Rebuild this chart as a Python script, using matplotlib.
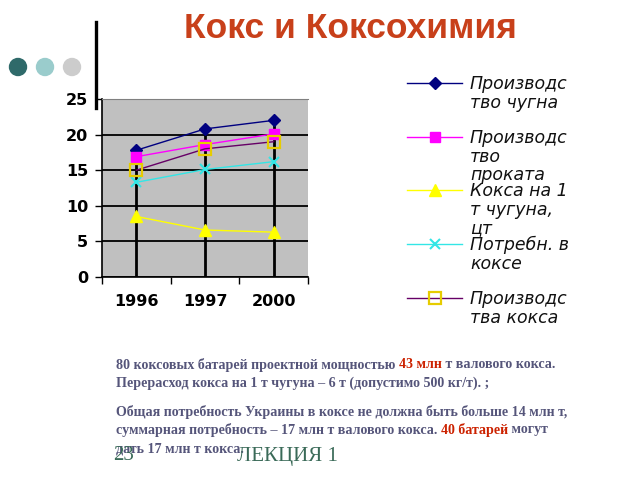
import matplotlib
matplotlib.use("Agg")
import matplotlib.pyplot as plt
from matplotlib.lines import Line2D
from matplotlib.patches import Circle

years = ["1996", "1997", "2000"]
chugun = [17.8, 20.8, 22.0]
prokat = [16.9, 18.6, 20.1]
koks_na_t = [8.5, 6.6, 6.3]
potrebn = [13.3, 15.1, 16.2]
proizv_koksa = [15.0, 18.0, 19.0]

labels = ["Производс\nтво чугна",
          "Производс\nтво\nпроката",
          "Кокса на 1\nт чугуна,\nцт",
          "Потребн. в\nкоксе",
          "Производс\nтва кокса"]

title = "Кокс и Коксохимия"
notes = [
    [("80 коксовых батарей проектной мощностью ", "n"), ("43 млн", "r"), (" т валового кокса.", "n")],
    [("Перерасход кокса на 1 т чугуна – 6 т (допустимо 500 кг/т). ;", "n")],
    [("Общая потребность Украины в коксе не должна быть больше 14 млн т,", "n")],
    [("суммарная потребность – 17 млн т валового кокса. ", "n"), ("40 батарей", "r"), (" могут", "n")],
    [("дать 17 млн т кокса.", "n")],
]

W, H = 640, 480
fig = plt.figure(figsize=(6.4, 4.8), dpi=100)

# slide decorations
for cx, col in [(18, "#2f6a6a"), (45, "#9acccc"), (72, "#cccccc")]:
    fig.patches.append(Circle((cx / 100, (H - 67) / 100), 0.085, color=col,
                              transform=fig.dpi_scale_trans))
fig.lines.append(Line2D([96 / W, 96 / W], [1 - 22 / H, 1 - 108 / H], color="black",
                        lw=2.4, transform=fig.transFigure))

fig.text(350 / W, 1 - 28 / H, title, ha="center", va="center", fontsize=25.5,
         fontweight="bold", color="#c8401a", family="Liberation Sans")

# chart
ax = fig.add_axes([102 / W, 1 - 277 / H, 206 / W, 178 / H])
ax.set_facecolor("#c0c0c0")
x = list(range(len(years)))
tops = [max(v) for v in zip(chugun, prokat, koks_na_t, potrebn, proizv_koksa)]
ax.vlines(x, 0, tops, color="black", lw=2, zorder=2)
ax.set_axisbelow(True)
ax.yaxis.grid(True, color="black", lw=1.3)

series = [
    (chugun, dict(color="#000080", marker="D", ms=6)),
    (prokat, dict(color="#ff00ff", marker="s", ms=7)),
    (koks_na_t, dict(color="#ffff00", marker="^", ms=9)),
    (potrebn, dict(color="#33e6e6", marker="x", ms=7, mew=1.5)),
    (proizv_koksa, dict(color="#660066", marker="s", ms=8, mfc="none",
                        mec="#e6cc00", mew=1.6)),
]
for vals, kw in series:
    ax.plot(x, vals, lw=1, zorder=3, **kw)

ax.set_xlim(-0.5, 2.5)
ax.set_ylim(0, 25)
ax.set_yticks([0, 5, 10, 15, 20, 25])
ax.set_xticks(x)
ax.set_xticklabels(years)
ax.set_xticks([-0.5, 0.5, 1.5, 2.5], minor=True)
ax.tick_params(axis="x", which="major", length=0, pad=12)
ax.tick_params(axis="x", which="minor", length=5, direction="out", width=1)
ax.tick_params(axis="y", length=5, direction="out", width=1, pad=5)
for lab in ax.get_xticklabels() + ax.get_yticklabels():
    lab.set_fontfamily("DejaVu Sans")
    lab.set_fontweight("bold")
    lab.set_fontsize(11.5)
ax.spines["right"].set_visible(False)
ax.spines["top"].set_color("#808080")
ax.spines["left"].set_linewidth(1.2)
ax.spines["bottom"].set_linewidth(1.2)

# legend
lax = fig.add_axes([0, 0, 1, 1], facecolor="none")
lax.set_xlim(0, W)
lax.set_ylim(H, 0)
lax.axis("off")
ys = [83, 137, 190, 244, 298]
for (vals, kw), lab, yy in zip(series, labels, ys):
    lax.plot([407, 462], [yy, yy], lw=1, color=kw["color"])
    lax.plot([434.5], [yy], lw=0, **kw)
    lax.text(470, yy - 8, lab, ha="left", va="top", fontsize=12.5,
             family="DejaVu Sans", style="italic", linespacing=1.05,
             color="#111111")

# notes
fig.canvas.draw()
rend = fig.canvas.get_renderer()
colors = {"n": "#55557a", "r": "#cc2200"}
ny = [365, 383, 412, 430, 449]
for line, yy in zip(notes, ny):
    xx = 116
    for s, c in line:
        t = fig.text(xx / W, 1 - yy / H, s, ha="left", va="center", fontsize=10.1,
                     fontweight="bold", family="Liberation Serif", color=colors[c])
        bb = t.get_window_extent(rend)
        xx += bb.width

fig.text(113 / W, 1 - 456 / H, "23", ha="left", va="center", fontsize=15,
         family="Liberation Serif", color="#3a6a58")
fig.text(237 / W, 1 - 456 / H, "ЛЕКЦИЯ 1", ha="left", va="center", fontsize=15,
         family="Liberation Serif", color="#3a6a58")

fig.savefig("out.png", dpi=100)
